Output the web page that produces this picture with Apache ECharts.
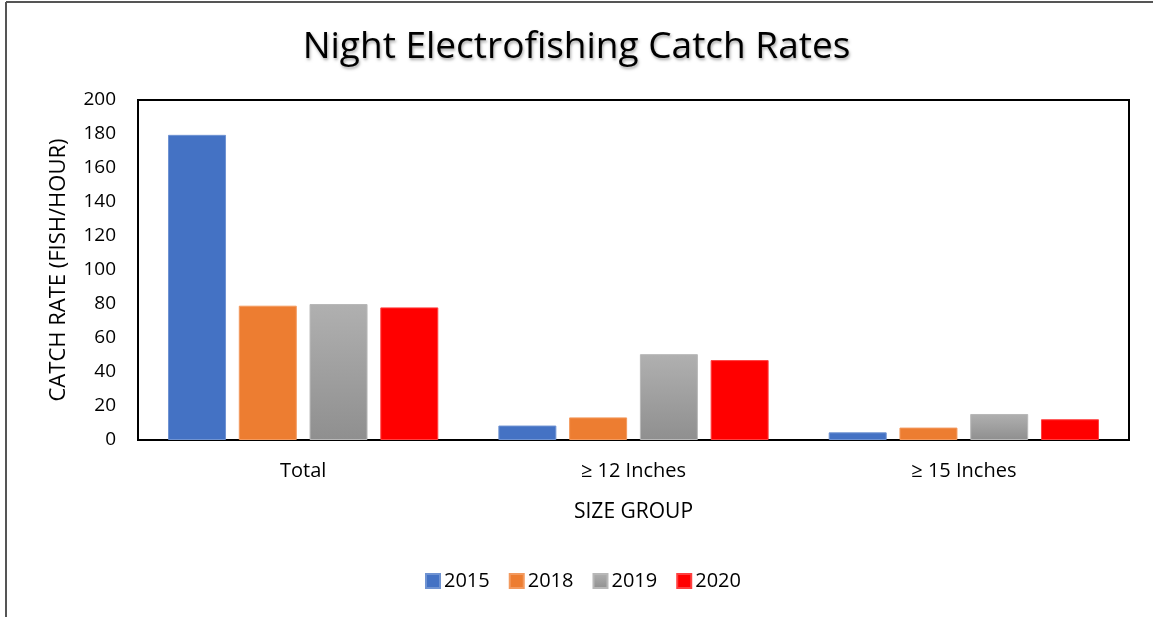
<!DOCTYPE html>
<html>
<head>
<meta charset="utf-8">
<script src="https://cdn.jsdelivr.net/npm/echarts@6/dist/echarts.min.js"></script>
<style>
html,body{margin:0;padding:0;background:#fff;}
#chart{width:1153px;height:617px;}
</style>
</head>
<body>
<div id="chart"></div>
<script>
const categories = ['Total', '≥ 12 Inches', '≥ 15 Inches'];
const seriesNames = ['2015', '2018', '2019', '2020'];
const values2015 = [179.5, 8.5, 4.5];
const values2018 = [79, 13.3, 7.3];
const values2019 = [80, 50.5, 15.3];
const values2020 = [78, 47, 12.2];
const yTicks = [0, 20, 40, 60, 80, 100, 120, 140, 160, 180, 200];

const FONT = 'Open Sans';
const chart = echarts.init(document.getElementById('chart'));

const gray = new echarts.graphic.LinearGradient(0, 0, 0, 1, [
  {offset: 0, color: '#b0b0b0'},
  {offset: 1, color: '#8f8f8f'}
]);
const styles = [
  {color: '#4472C4', borderColor: '#6f93d2'},
  {color: '#ED7D31', borderColor: '#f39a5f'},
  {color: gray, borderColor: '#b8b8b8'},
  {color: '#FF0000', borderColor: '#ff4040'}
];
const allValues = [values2015, values2018, values2019, values2020];

chart.setOption({
  animation: false,
  backgroundColor: '#fff',
  title: {
    text: 'Night Electrofishing Catch Rates',
    left: 'center',
    top: 24,
    textStyle: {
      fontFamily: FONT, fontSize: 37, fontWeight: 'normal', color: '#000',
      textShadowColor: 'rgba(0,0,0,0.35)', textShadowBlur: 3, textShadowOffsetX: 1, textShadowOffsetY: 2
    }
  },
  legend: {
    data: seriesNames,
    top: 566,
    left: 420,
    itemWidth: 14, itemHeight: 14, itemGap: 19,
    icon: 'rect',
    textStyle: {fontFamily: FONT, fontSize: 20, color: '#000', padding: [0, 0, 0, -1]}
  },
  grid: {
    left: 138, right: 24, top: 100, bottom: 177,
    show: true, borderColor: '#000', borderWidth: 2, backgroundColor: 'transparent'
  },
  xAxis: {
    type: 'category',
    data: categories,
    name: 'SIZE GROUP',
    nameLocation: 'middle',
    nameGap: 62,
    nameTextStyle: {fontFamily: FONT, fontSize: 21, color: '#000'},
    axisLine: {show: true, lineStyle: {color: '#000', width: 2}},
    axisTick: {show: false},
    axisLabel: {fontFamily: FONT, fontSize: 20, color: '#000', margin: 21}
  },
  yAxis: {
    type: 'value',
    min: 0, max: 200, interval: 20,
    name: 'CATCH RATE (FISH/HOUR)',
    nameLocation: 'middle',
    nameGap: 68,
    nameTextStyle: {fontFamily: FONT, fontSize: 22, color: '#000'},
    axisLine: {show: false},
    axisTick: {show: false},
    splitLine: {show: false},
    axisLabel: {
      fontFamily: FONT, fontSize: 19, color: '#000', margin: 22,
      formatter: function (v) { return yTicks.indexOf(v) >= 0 ? String(v) : ''; }
    }
  },
  graphic: [
    {type: 'line', shape: {x1: 6, y1: 2, x2: 1153, y2: 2}, style: {stroke: '#555', lineWidth: 2}},
    {type: 'line', shape: {x1: 6, y1: 2, x2: 6, y2: 617}, style: {stroke: '#555', lineWidth: 2}}
  ],
  series: seriesNames.map(function (name, i) {
    return {
      name: name,
      type: 'bar',
      data: allValues[i],
      barWidth: 58,
      barGap: '22%',
      itemStyle: {color: styles[i].color, borderColor: styles[i].borderColor, borderWidth: 1}
    };
  })
});
</script>
</body>
</html>
